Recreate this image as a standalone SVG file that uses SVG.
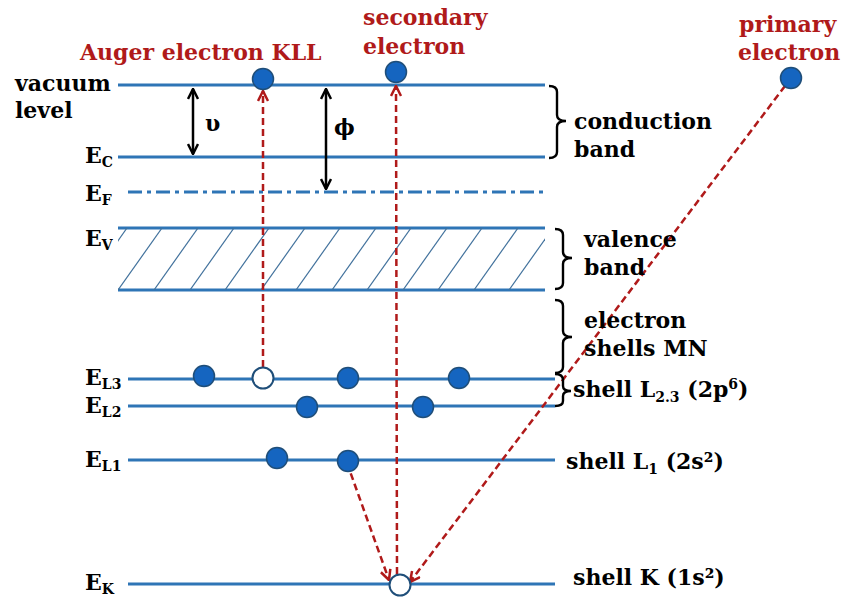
<svg xmlns="http://www.w3.org/2000/svg" width="842" height="599" viewBox="0 0 842 599">
<style>
.lvl{stroke:#2E75B6;stroke-width:3;fill:none}
.hatch{stroke:#41719C;stroke-width:1.2}
.t{font-family:"DejaVu Serif","Liberation Serif",serif;font-weight:bold;font-size:22px;fill:#000}
.r{fill:#B01A1A}
.sub{font-size:14px}
.e{fill:#1565C0;stroke:#1F4E79;stroke-width:1.5}
.h{fill:#fff;stroke:#1F4E79;stroke-width:2}
.red{stroke:#B01A1A;stroke-width:2.5;stroke-dasharray:7 4;fill:none;marker-end:url(#ra)}
.blk{stroke:#000;stroke-width:2.5;fill:none;marker-start:url(#ba);marker-end:url(#ba)}
.br{stroke:#000;stroke-width:2.4;fill:none}
</style>
<defs>
<marker id="ra" viewBox="0 0 10 10" refX="9" refY="5" markerWidth="5" markerHeight="5" orient="auto" markerUnits="strokeWidth">
<path d="M1,1 L9,5 L1,9" fill="none" stroke="#B01A1A" stroke-width="2"/>
</marker>
<marker id="ba" viewBox="0 0 10 10" refX="9" refY="5" markerWidth="5" markerHeight="5" orient="auto-start-reverse" markerUnits="strokeWidth">
<path d="M1,1 L9,5 L1,9" fill="none" stroke="#000" stroke-width="2"/>
</marker>
<clipPath id="vb"><rect x="118" y="228" width="427" height="62"/></clipPath>
</defs>

<g id="levels">
<line class="lvl" x1="118" y1="85" x2="545" y2="85"/>
<line class="lvl" x1="118" y1="157" x2="545" y2="157"/>
<line class="lvl" x1="128" y1="192" x2="545" y2="192" stroke-dasharray="14 5 4 5"/>
<line class="lvl" x1="118" y1="228" x2="545" y2="228"/>
<line class="lvl" x1="118" y1="290" x2="545" y2="290"/>
<line class="lvl" x1="128" y1="379" x2="555" y2="379"/>
<line class="lvl" x1="128" y1="406" x2="555" y2="406"/>
<line class="lvl" x1="128" y1="460" x2="555" y2="460"/>
<line class="lvl" x1="128" y1="584" x2="555" y2="584"/>
</g>

<g id="valence-hatch" clip-path="url(#vb)">
<line class="hatch" x1="83" y1="290" x2="127" y2="228"/>
<line class="hatch" x1="118" y1="290" x2="162" y2="228"/>
<line class="hatch" x1="154" y1="290" x2="198" y2="228"/>
<line class="hatch" x1="190" y1="290" x2="234" y2="228"/>
<line class="hatch" x1="225" y1="290" x2="269" y2="228"/>
<line class="hatch" x1="261" y1="290" x2="305" y2="228"/>
<line class="hatch" x1="296" y1="290" x2="340" y2="228"/>
<line class="hatch" x1="332" y1="290" x2="376" y2="228"/>
<line class="hatch" x1="367" y1="290" x2="411" y2="228"/>
<line class="hatch" x1="403" y1="290" x2="447" y2="228"/>
<line class="hatch" x1="438" y1="290" x2="482" y2="228"/>
<line class="hatch" x1="474" y1="290" x2="518" y2="228"/>
<line class="hatch" x1="509" y1="290" x2="553" y2="228"/>
<line class="hatch" x1="545" y1="290" x2="589" y2="228"/>
</g>

<g id="connectors">
<line class="red" x1="263" y1="367" x2="263" y2="91"/>
<line class="red" x1="397" y1="574" x2="396" y2="86"/>
<line class="red" x1="785" y1="86" x2="410" y2="582"/>
<line class="red" x1="347" y1="463" x2="389" y2="580"/>
<line class="blk" x1="193" y1="89" x2="193" y2="154"/>
<line class="blk" x1="326" y1="89" x2="326" y2="189"/>
</g>

<g id="brackets">
<path class="br" d="M549,86 Q557,86 557,92 L557,115 Q557,121 566,121 Q557,121 557,127 L557,152 Q557,158 549,158"/>
<path class="br" d="M555,229 Q563,229 563,235 L563,252 Q563,258 572,258 Q563,258 563,264 L563,283 Q563,289 555,289"/>
<path class="br" d="M555,300 Q563,300 563,306 L563,331 Q563,337 572,337 Q563,337 563,343 L563,367 Q563,373 555,373"/>
<path class="br" d="M555,374 Q563,374 563,380 L563,386 Q563,391 571,391 Q563,391 563,396 L563,401 Q563,406 555,406"/>
</g>

<g id="electrons">
<circle class="e" cx="263" cy="79" r="10.5"/>
<circle class="e" cx="396" cy="72" r="10.5"/>
<circle class="e" cx="791" cy="78" r="10.5"/>
<circle class="e" cx="204" cy="376" r="10.5"/>
<circle class="h" cx="263" cy="378" r="10.5"/>
<circle class="e" cx="348" cy="378" r="10.5"/>
<circle class="e" cx="459" cy="378" r="10.5"/>
<circle class="e" cx="307" cy="407" r="10.5"/>
<circle class="e" cx="423" cy="407" r="10.5"/>
<circle class="e" cx="277" cy="458" r="10.5"/>
<circle class="e" cx="348" cy="461" r="10.5"/>
<circle class="h" cx="400" cy="585" r="10.5"/>
</g>

<g id="labels">
<text class="t r" x="80" y="60">Auger electron KLL</text>
<text class="t r" x="363" y="25">secondary</text>
<text class="t r" x="363" y="54">electron</text>
<text class="t r" x="739" y="32">primary</text>
<text class="t r" x="738" y="60">electron</text>
<text class="t" x="15" y="91">vacuum</text>
<text class="t" x="15" y="118">level</text>
<text class="t" x="85" y="163">E<tspan class="sub" dy="4">C</tspan></text>
<text class="t" x="85" y="201">E<tspan class="sub" dy="4">F</tspan></text>
<text class="t" x="85" y="246">E<tspan class="sub" dy="4">V</tspan></text>
<text class="t" x="85" y="385">E<tspan class="sub" dy="4">L3</tspan></text>
<text class="t" x="85" y="413">E<tspan class="sub" dy="4">L2</tspan></text>
<text class="t" x="85" y="467">E<tspan class="sub" dy="4">L1</tspan></text>
<text class="t" x="85" y="590">E<tspan class="sub" dy="4">K</tspan></text>
<text class="t" x="205" y="131">υ</text>
<text class="t" x="334" y="135">ϕ</text>
<text class="t" x="574" y="129">conduction</text>
<text class="t" x="574" y="157">band</text>
<text class="t" x="584" y="247">valence</text>
<text class="t" x="584" y="275">band</text>
<text class="t" x="584" y="328">electron</text>
<text class="t" x="584" y="356">shells MN</text>
<text class="t" x="573" y="397">shell L<tspan class="sub" dy="5">2.3</tspan><tspan dy="-5"> (2p</tspan><tspan class="sub" dy="-8">6</tspan><tspan dy="8">)</tspan></text>
<text class="t" x="566" y="469">shell L<tspan class="sub" dy="5">1</tspan><tspan dy="-5"> (2s²)</tspan></text>
<text class="t" x="573" y="585">shell K (1s²)</text>
</g>
</svg>
